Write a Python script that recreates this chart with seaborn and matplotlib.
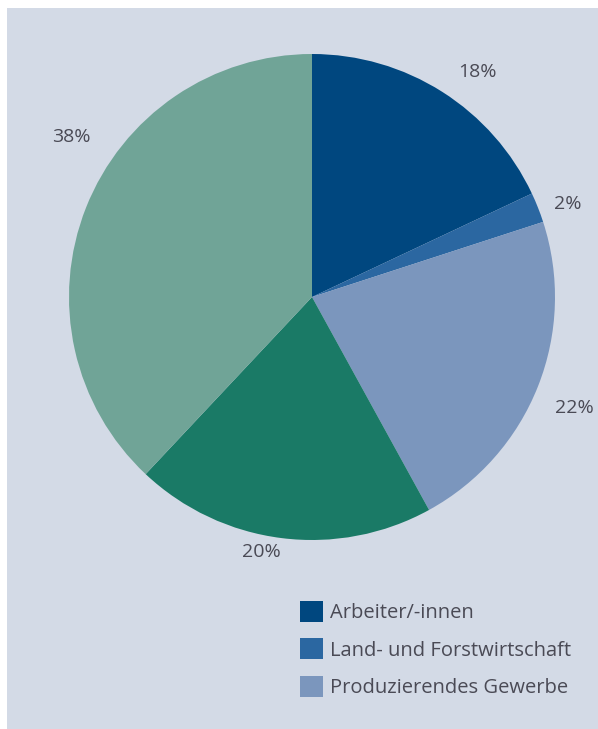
import matplotlib
matplotlib.use("Agg")
import matplotlib.pyplot as plt
from matplotlib.patches import Rectangle
import numpy as np
import seaborn as sns

# data
categories = ["Arbeiter/-innen", "Land- und Forstwirtschaft", "Produzierendes Gewerbe",
              "Dienstleistungen", "Sonstige"]
shares = [18, 2, 22, 20, 38]
legend_count = 3  # only the first three appear in the legend

colors = ["#00477f", "#2b67a1", "#7b96bd", "#1a7a66", "#70a497"]
bg = "#d3dae6"
text_col = "#4a4a55"

# label placement tweaks (radius, angle offset in degrees)
label_r = [1.15, 1.12, 1.17, 1.07, 1.19]
label_da = [-4, -1.6, -1.3, -4, -12]

sns.set_theme(style="white")
plt.rcParams["font.family"] = ["Open Sans", "DejaVu Sans"]

fig = plt.figure(figsize=(5.98, 7.29), dpi=100)
fig.patch.set_facecolor("white")
fig.patches.append(Rectangle((7 / 598, 0), 1 - 7 / 598, 1 - 8 / 729,
                             transform=fig.transFigure, facecolor=bg,
                             edgecolor="none", zorder=-10))

ax = fig.add_axes([69 / 598, 1 - 540 / 729, 486 / 598, 486 / 729])
ax.set_facecolor("none")
palette = sns.color_palette(colors)
wedges, texts = ax.pie(shares, colors=palette, startangle=90, counterclock=False,
                       labels=[f"{v}%" for v in shares], labeldistance=1.15,
                       wedgeprops=dict(linewidth=0),
                       textprops=dict(color=text_col, fontsize=14))

for w, t, r, da in zip(wedges, texts, label_r, label_da):
    mid = np.deg2rad((w.theta1 + w.theta2) / 2 + da)
    t.set_position((r * np.cos(mid), r * np.sin(mid)))
    t.set_ha("center")
    t.set_va("center")

ax.set_xlim(-1, 1)
ax.set_ylim(-1, 1)
ax.set_aspect("equal")
ax.axis("off")

leg = fig.legend(wedges[:legend_count], categories[:legend_count],
                 loc="upper left", bbox_to_anchor=(300 / 598, 1 - 601 / 729),
                 frameon=False, fontsize=14.5, labelcolor=text_col,
                 handlelength=1.14, handleheight=1.23, handletextpad=0.35,
                 labelspacing=0.75, borderpad=0, borderaxespad=0)

fig.savefig("out.png", dpi=100)
